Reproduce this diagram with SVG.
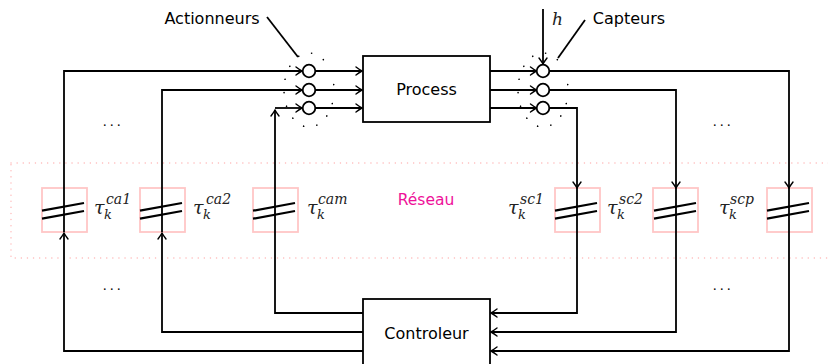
<svg xmlns="http://www.w3.org/2000/svg" width="828" height="364" viewBox="0 0 828 364">
<defs>
<marker id="arr" markerUnits="userSpaceOnUse" markerWidth="12" markerHeight="12" viewBox="-7 -6 8 12" refX="0" refY="0" orient="auto">
<path d="M-6,-4 Q-2,-1 0,0 Q-2,1 -6,4" fill="none" stroke="#000" stroke-width="1.4" stroke-linecap="round"/>
</marker>
</defs>
<style>
.w{fill:none;stroke:#000;stroke-width:1.8;marker-end:url(#arr)}
.l{fill:none;stroke:#000;stroke-width:1.8}
.box{fill:#fff;stroke:#000;stroke-width:1.8}
.lab{font-family:"DejaVu Sans",sans-serif;font-size:16px;fill:#000}
.dly{fill:none;stroke:#ffc6c6;stroke-width:1.8}
.sl{stroke:#000;stroke-width:2.2}
.m{font-family:"DejaVu Serif",serif;font-style:italic;fill:#222}
.t{font-size:19px}
.s{font-size:13px}
.p{font-size:14px}
.dots{font-family:"Liberation Serif",serif;font-size:14px;letter-spacing:3.5px;fill:#000}
.circ{fill:#fff;stroke:#000;stroke-width:1.8}
.grp{fill:none;stroke:#000;stroke-width:1.6;stroke-dasharray:0.1 13.5;stroke-linecap:round}
</style>
<rect x="11" y="163" width="830" height="95" fill="none" stroke="#ffb8b8" stroke-width="1.4" stroke-dasharray="0.1 6" stroke-linecap="round"/>
<text x="426" y="205" text-anchor="middle" font-family="DejaVu Sans, sans-serif" font-size="15.5" fill="#ee1199">Réseau</text>
<g id="delays">
<g id="d-ca1"><rect class="dly" x="42" y="188" width="45" height="44"/></g>
<g id="d-ca2"><rect class="dly" x="140" y="188" width="45" height="44"/></g>
<g id="d-cam"><rect class="dly" x="253" y="188" width="45" height="44"/></g>
<g id="d-sc1"><rect class="dly" x="555" y="188" width="45" height="44"/></g>
<g id="d-sc2"><rect class="dly" x="653" y="188" width="45" height="44"/></g>
<g id="d-scp"><rect class="dly" x="767" y="188" width="45" height="44"/></g>
</g>
<g id="connectors">
<path class="w" d="M363,351 H64 V233"/>
<path class="w" d="M64,232 V71 H302"/>
<path class="w" d="M363,332 H162 V233"/>
<path class="w" d="M162,232 V90 H302"/>
<path class="w" d="M363,313 H275 V110"/>
<path class="w" d="M275,108 H302"/>
<path class="w" d="M315.5,71 H362"/>
<path class="w" d="M315.5,90 H362"/>
<path class="w" d="M315.5,108 H362"/>
<path class="w" d="M490,71 H536.5"/>
<path class="w" d="M490,90 H536.5"/>
<path class="w" d="M490,108 H536.5"/>
<path class="w" d="M543,9 V64"/>
<path class="w" d="M549.5,71 H789 V188"/>
<path class="w" d="M789,188 V351 H491"/>
<path class="w" d="M549.5,90 H676 V188"/>
<path class="w" d="M676,188 V332 H491"/>
<path class="w" d="M549.5,108 H577 V188"/>
<path class="w" d="M577,188 V313 H491"/>
<path class="l" d="M298,57 L267,17"/>
<path class="l" d="M558,58 L585,20"/>
</g>
<g id="slashes">
<g transform="translate(64,0)"><line class="sl" x1="-22" y1="210.7" x2="20" y2="203"/><line class="sl" x1="-22" y1="218.7" x2="20" y2="211"/></g>
<g transform="translate(162,0)"><line class="sl" x1="-22" y1="210.7" x2="20" y2="203"/><line class="sl" x1="-22" y1="218.7" x2="20" y2="211"/></g>
<g transform="translate(275,0)"><line class="sl" x1="-22" y1="210.7" x2="20" y2="203"/><line class="sl" x1="-22" y1="218.7" x2="20" y2="211"/></g>
<g transform="translate(577,0)"><line class="sl" x1="-22" y1="210.7" x2="20" y2="203"/><line class="sl" x1="-22" y1="218.7" x2="20" y2="211"/></g>
<g transform="translate(676,0)"><line class="sl" x1="-22" y1="210.7" x2="20" y2="203"/><line class="sl" x1="-22" y1="218.7" x2="20" y2="211"/></g>
<g transform="translate(789,0)"><line class="sl" x1="-22" y1="210.7" x2="20" y2="203"/><line class="sl" x1="-22" y1="218.7" x2="20" y2="211"/></g>
</g>
<g id="actuators">
<ellipse class="grp" cx="309" cy="90" rx="25" ry="37"/>
<circle class="circ" cx="309" cy="71" r="6.3"/>
<circle class="circ" cx="309" cy="90" r="6.3"/>
<circle class="circ" cx="309" cy="108" r="6.3"/>
<text class="lab" x="212" y="24" text-anchor="middle">Actionneurs</text>
</g>
<g id="sensors">
<ellipse class="grp" cx="543" cy="90" rx="25" ry="37"/>
<circle class="circ" cx="543" cy="71" r="6.3"/>
<circle class="circ" cx="543" cy="90" r="6.3"/>
<circle class="circ" cx="543" cy="108" r="6.3"/>
<text class="lab" x="629" y="24" text-anchor="middle">Capteurs</text>
<text class="m" x="552" y="25" font-size="17">h</text>
</g>
<g id="process"><rect class="box" x="363" y="56" width="127" height="66"/><text class="lab" x="426.5" y="95" text-anchor="middle">Process</text></g>
<g id="controleur"><rect class="box" x="363" y="299" width="127" height="70"/><text class="lab" x="426.5" y="339" text-anchor="middle">Controleur</text></g>
<g id="labels">
<text class="m t" x="94" y="214">τ</text><text class="m s" x="104" y="219">k</text><text class="m p" x="106" y="204">ca1</text>
<text class="m t" x="193" y="214">τ</text><text class="m s" x="203" y="219">k</text><text class="m p" x="206" y="204">ca2</text>
<text class="m t" x="307" y="214">τ</text><text class="m s" x="317" y="219">k</text><text class="m p" x="318" y="204">cam</text>
<text class="m t" x="508" y="214">τ</text><text class="m s" x="518" y="219">k</text><text class="m p" x="520" y="204">sc1</text>
<text class="m t" x="607" y="214">τ</text><text class="m s" x="617" y="219">k</text><text class="m p" x="619" y="204">sc2</text>
<text class="m t" x="719" y="214">τ</text><text class="m s" x="729" y="219">k</text><text class="m p" x="730" y="204">scp</text>
</g>
<g id="ellipsis">
<text class="dots" x="103" y="126">...</text>
<text class="dots" x="103" y="290">...</text>
<text class="dots" x="713" y="126">...</text>
<text class="dots" x="713" y="290">...</text>
</g>
</svg>
